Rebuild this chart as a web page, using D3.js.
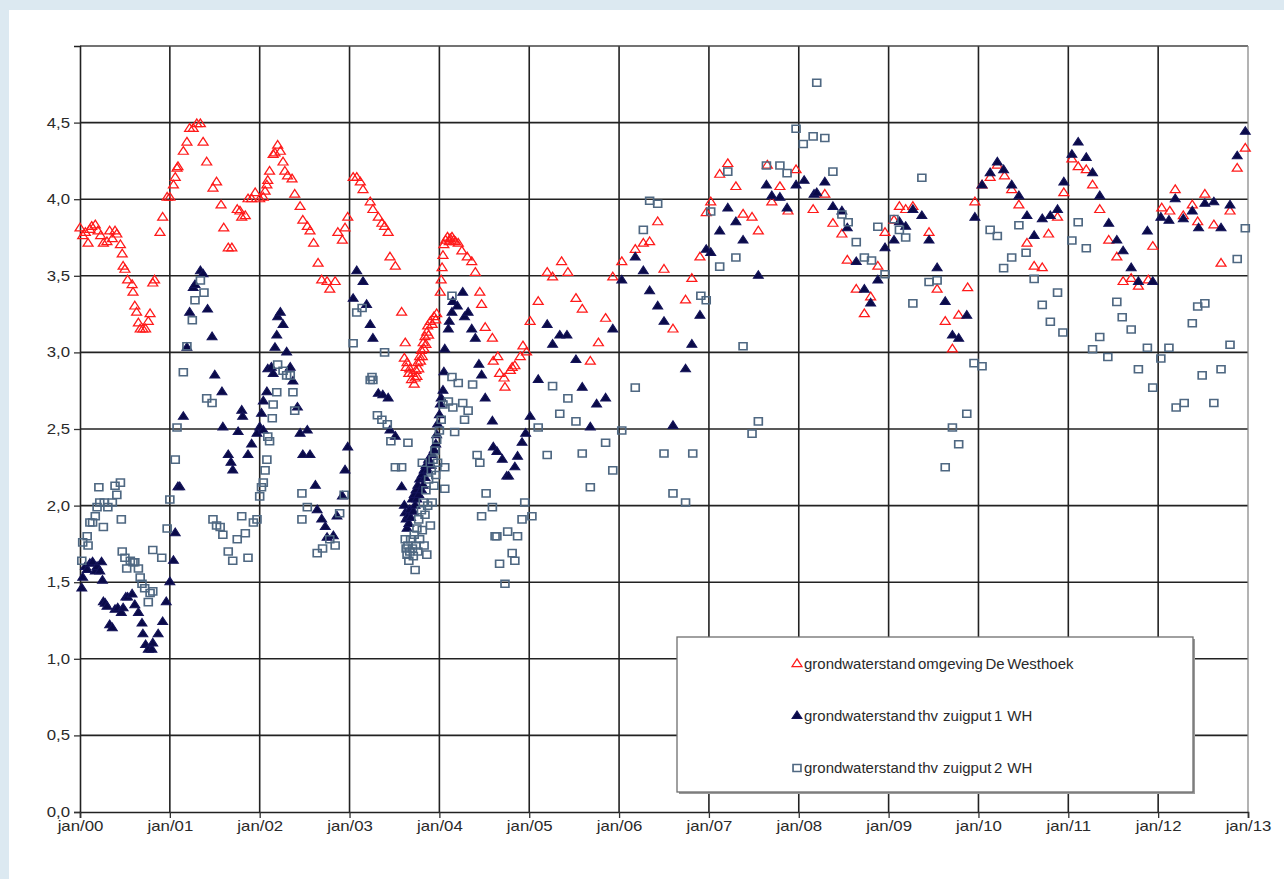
<!DOCTYPE html>
<html>
<head>
<meta charset="utf-8">
<title>grondwaterstand De Westhoek</title>
<script src="https://d3js.org/d3.v7.min.js"></script>
<style>
    body { margin: 0; background: #dde9f1; overflow: hidden; }
    svg { display: block; font-family: "Liberation Sans", Arial, sans-serif; }
</style>
</head>
<body>
<div id="chart"></div>
<script>
// x values: years since jan/00 (decimal), y values: grondwaterstand
const yearLabels = ['jan/00', 'jan/01', 'jan/02', 'jan/03', 'jan/04', 'jan/05', 'jan/06',
    'jan/07', 'jan/08', 'jan/09', 'jan/10', 'jan/11', 'jan/12', 'jan/13'];
const yTicks = [0, 0.5, 1, 1.5, 2, 2.5, 3, 3.5, 4, 4.5];
const seriesNames = ['grondwaterstand omgeving De Westhoek',
    'grondwaterstand thv  zuigput 1  WH', 'grondwaterstand thv  zuigput 2  WH'];

const westhoek = [
    [0.00,3.81],[0.03,3.76],[0.06,3.78],[0.09,3.71],[0.11,3.80],[0.13,3.82],[0.17,3.83],[0.20,3.79],[0.23,3.76],
    [0.26,3.71],[0.30,3.72],[0.33,3.79],[0.36,3.74],[0.39,3.79],[0.41,3.77],[0.45,3.70],[0.47,3.64],[0.48,3.56],
    [0.50,3.54],[0.53,3.47],[0.58,3.44],[0.59,3.39],[0.61,3.30],[0.63,3.26],[0.65,3.19],[0.67,3.15],[0.70,3.15],
    [0.73,3.15],[0.76,3.20],[0.78,3.25],[0.81,3.45],[0.83,3.47],[0.89,3.78],[0.92,3.88],[0.97,4.01],[1.00,4.01],
    [1.04,4.09],[1.06,4.14],[1.08,4.20],[1.09,4.21],[1.15,4.31],[1.19,4.37],[1.22,4.46],[1.26,4.46],[1.30,4.49],
    [1.34,4.49],[1.37,4.37],[1.41,4.24],[1.48,4.07],[1.52,4.11],[1.57,3.96],[1.60,3.81],[1.65,3.68],[1.69,3.68],
    [1.75,3.93],[1.78,3.92],[1.80,3.88],[1.84,3.89],[1.87,4.00],[1.91,4.00],[1.95,4.04],[2.00,4.00],
    [2.04,4.01],[2.06,4.05],[2.08,4.09],[2.09,4.12],[2.11,4.18],[2.15,4.29],[2.17,4.30],[2.20,4.35],[2.23,4.31],
    [2.26,4.24],[2.28,4.18],[2.31,4.15],[2.36,4.13],[2.39,4.03],[2.45,3.95],[2.48,3.86],[2.53,3.82],[2.56,3.79],
    [2.60,3.71],[2.65,3.58],[2.69,3.47],[2.75,3.46],[2.78,3.41],[2.84,3.46],[2.87,3.78],[2.92,3.73],[2.95,3.81],
    [2.98,3.88],
    [3.04,4.14],[3.08,4.14],[3.12,4.11],[3.15,4.06],[3.23,3.98],[3.26,3.93],[3.32,3.88],[3.36,3.84],[3.39,3.82],
    [3.43,3.78],[3.45,3.62],[3.51,3.56],[3.58,3.26],[3.62,3.06],
    [3.61,2.96],[3.63,2.90],[3.64,2.93],[3.66,2.86],[3.67,2.89],[3.69,2.82],[3.70,2.86],[3.72,2.79],[3.73,2.83],
    [3.74,2.88],[3.75,2.84],[3.76,2.93],[3.77,2.89],[3.78,2.97],[3.79,2.94],[3.80,3.01],[3.81,2.97],[3.82,3.06],
    [3.83,3.02],[3.84,3.10],[3.85,3.05],[3.86,3.13],[3.87,3.17],[3.88,3.11],[3.90,3.20],[3.92,3.18],[3.94,3.23],
    [3.96,3.21],[3.97,3.25],
    [4.01,3.39],[4.02,3.47],[4.03,3.55],[4.04,3.63],[4.05,3.70],[4.07,3.73],[4.09,3.75],[4.11,3.72],[4.12,3.74],
    [4.14,3.75],[4.16,3.73],[4.18,3.72],[4.21,3.71],[4.25,3.66],[4.31,3.62],[4.36,3.59],[4.40,3.52],[4.45,3.39],
    [4.47,3.31],[4.51,3.16],[4.59,3.09],[4.60,2.94],[4.65,2.97],[4.67,2.86],[4.72,2.83],[4.73,2.77],[4.79,2.88],
    [4.81,2.90],[4.84,2.91],[4.90,2.97],[4.93,3.04],[4.97,3.00],
    [5.01,3.20],[5.10,3.33],[5.20,3.52],[5.26,3.49],[5.36,3.59],[5.43,3.52],[5.52,3.35],[5.59,3.28],[5.68,2.94],
    [5.77,3.06],[5.85,3.22],[5.93,3.49],[6.03,3.59],
    [6.18,3.67],[6.27,3.71],[6.34,3.72],[6.43,3.85],[6.50,3.54],[6.60,3.15],[6.74,3.34],[6.81,3.48],[6.90,3.62],
    [6.97,3.91],[7.02,3.98],[7.12,4.16],[7.21,4.23],[7.30,4.08],[7.38,3.90],[7.48,3.88],[7.55,3.79],[7.65,4.22],
    [7.70,3.98],[7.79,4.08],[7.88,3.92],[7.97,4.19],[8.16,3.93],[8.29,4.03],[8.38,3.84],[8.48,3.77],[8.54,3.60],
    [8.64,3.41],[8.73,3.25],[8.80,3.36],[8.88,3.56],[8.96,3.78],[9.06,3.86],[9.12,3.95],[9.19,3.93],[9.27,3.95],
    [9.45,3.78],[9.54,3.41],[9.63,3.20],[9.71,3.02],[9.78,3.24],[9.88,3.42],[9.96,3.98],[10.04,4.09],[10.13,4.14],
    [10.21,4.22],[10.29,4.15],[10.37,4.06],[10.45,3.96],[10.54,3.71],[10.62,3.56],[10.71,3.55],[10.78,3.77],
    [10.88,3.88],[10.95,4.04],[11.04,4.26],[11.11,4.21],[11.20,4.19],[11.27,4.09],[11.35,3.93],[11.45,3.73],
    [11.54,3.62],[11.61,3.46],[11.70,3.48],[11.78,3.43],[11.89,3.47],[11.94,3.69],[12.04,3.94],[12.13,3.92],
    [12.19,4.06],[12.28,3.89],[12.38,3.96],[12.44,3.85],[12.52,4.03],[12.62,3.83],[12.70,3.58],[12.80,3.92],
    [12.88,4.20],[12.97,4.33]
];

const zuigput1 = [
    [0.02,1.46],[0.03,1.53],[0.06,1.60],[0.08,1.58],[0.11,1.62],[0.14,1.63],[0.17,1.57],[0.19,1.60],[0.22,1.57],
    [0.24,1.63],[0.25,1.51],[0.26,1.37],[0.28,1.36],[0.30,1.34],[0.33,1.22],[0.36,1.20],[0.39,1.32],[0.42,1.33],
    [0.46,1.30],[0.48,1.33],[0.51,1.40],[0.53,1.40],[0.58,1.42],[0.61,1.35],[0.65,1.30],[0.69,1.23],[0.70,1.16],
    [0.73,1.09],[0.76,1.06],[0.80,1.06],[0.81,1.10],[0.87,1.16],[0.92,1.24],[0.96,1.37],[1.00,1.50],[1.04,1.64],
    [1.06,1.82],[1.09,2.12],[1.11,2.12],
    [1.15,2.58],[1.19,3.03],[1.22,3.26],[1.26,3.42],[1.28,3.44],[1.34,3.53],[1.37,3.51],[1.42,3.28],[1.47,3.10],
    [1.50,2.85],[1.58,2.74],[1.59,2.51],[1.65,2.33],[1.68,2.28],[1.70,2.23],[1.76,2.48],[1.80,2.62],[1.81,2.58],
    [1.87,2.33],[1.91,2.40],[1.97,2.47],[2.00,2.51],[2.04,2.49],
    [2.02,2.60],[2.04,2.68],[2.08,2.74],[2.09,2.89],[2.13,2.90],[2.15,2.86],[2.17,3.03],[2.19,3.11],[2.20,3.23],
    [2.23,3.26],[2.26,3.18],[2.30,3.00],[2.34,2.90],[2.37,2.81],[2.42,2.64],[2.45,2.47],[2.48,2.33],[2.53,2.49],
    [2.56,2.33],[2.62,2.13],[2.64,1.97],[2.69,1.91],[2.73,1.86],[2.75,1.79],[2.82,1.80],[2.86,1.93],[2.92,2.06],
    [2.95,2.23],[2.98,2.38],
    [3.04,3.35],[3.08,3.53],[3.15,3.46],[3.19,3.31],[3.23,3.18],[3.26,3.09],[3.32,2.73],[3.37,2.72],[3.43,2.70],
    [3.45,2.49],[3.51,2.45],
    [3.58,2.12],[3.61,2.00],[3.62,1.95],[3.63,1.91],[3.64,1.85],[3.65,1.93],[3.66,1.88],[3.67,1.97],[3.68,1.92],
    [3.70,2.04],[3.71,1.96],[3.72,2.07],[3.73,2.00],[3.74,2.10],[3.75,2.04],[3.76,2.13],[3.77,2.07],[3.78,2.17],
    [3.80,2.10],[3.81,2.20],[3.82,2.13],[3.83,2.23],[3.84,2.18],[3.85,2.26],[3.87,2.23],[3.88,2.30],[3.91,2.26],
    [3.92,2.33],[3.94,2.36],[3.96,2.40],[3.97,2.46],[3.98,2.53],[4.00,2.59],[4.01,2.66],[4.02,2.70],[4.04,2.75],
    [4.05,2.87],[4.06,3.02],
    [4.10,3.15],[4.11,3.20],[4.14,3.26],[4.15,3.33],[4.20,3.30],[4.26,3.39],[4.28,3.23],[4.32,3.26],[4.36,3.15],
    [4.40,3.09],[4.44,2.92],[4.47,2.85],[4.51,2.70],[4.59,2.55],[4.60,2.38],[4.64,2.35],[4.70,2.30],[4.75,2.19],
    [4.77,2.19],[4.84,2.25],[4.87,2.32],[4.92,2.41],[4.96,2.47],[5.01,2.58],[5.10,2.82],
    [5.20,3.18],[5.26,3.05],[5.34,3.11],[5.42,3.11],[5.52,2.95],[5.59,2.77],[5.68,2.51],[5.75,2.66],[5.85,2.70],
    [5.93,3.15],[6.03,3.47],
    [6.18,3.62],[6.27,3.53],[6.34,3.40],[6.43,3.30],[6.50,3.20],[6.60,2.52],[6.74,2.89],[6.81,3.05],[6.90,3.24],
    [6.97,3.67],[7.02,3.65],[7.12,3.79],[7.21,3.94],[7.30,3.85],[7.38,3.73],[7.55,3.50],[7.64,4.09],[7.70,4.02],
    [7.79,4.01],[7.87,3.94],[7.97,4.09],[8.06,4.12],[8.17,4.03],[8.20,4.04],[8.29,4.11],[8.38,3.95],[8.48,3.92],
    [8.54,3.81],[8.64,3.59],[8.73,3.41],[8.80,3.32],[8.88,3.47],[8.96,3.68],[9.06,3.73],[9.12,3.85],[9.19,3.82],
    [9.27,3.93],[9.37,3.89],[9.45,3.73],[9.54,3.55],[9.63,3.33],[9.71,3.11],[9.78,3.09],[9.87,3.24],[9.96,3.88],
    [10.04,4.09],[10.13,4.17],[10.21,4.24],[10.28,4.19],[10.37,4.09],[10.45,4.02],[10.54,3.89],[10.62,3.76],
    [10.71,3.87],[10.80,3.89],[10.88,3.93],[10.95,4.11],[11.04,4.29],[11.11,4.37],[11.20,4.27],[11.27,4.17],
    [11.35,4.02],[11.45,3.84],[11.54,3.73],[11.61,3.66],[11.70,3.55],[11.78,3.46],[11.88,3.79],[11.94,3.46],
    [12.03,3.88],[12.12,3.86],[12.19,4.00],[12.28,3.87],[12.38,3.92],[12.45,3.81],[12.52,3.97],[12.62,3.98],
    [12.70,3.81],[12.80,3.96],[12.88,4.28],[12.97,4.44]
];

const zuigput2 = [
    [0.02,1.64],[0.03,1.76],[0.08,1.80],[0.09,1.74],[0.11,1.89],[0.14,1.89],[0.17,1.93],[0.19,1.99],[0.21,2.12],
    [0.22,2.02],[0.26,1.86],[0.27,2.02],[0.31,1.99],[0.36,2.02],[0.39,2.13],[0.41,2.07],[0.45,2.15],[0.46,1.91],
    [0.47,1.70],[0.50,1.66],[0.52,1.59],[0.56,1.64],[0.59,1.63],[0.61,1.63],[0.65,1.59],[0.67,1.53],[0.69,1.49],
    [0.72,1.46],[0.76,1.37],[0.78,1.43],[0.81,1.44],[0.81,1.71],[0.91,1.66],[0.97,1.85],[1.00,2.04],[1.06,2.30],
    [1.08,2.51],[1.15,2.87],
    [1.19,3.04],[1.25,3.21],[1.28,3.34],[1.34,3.47],[1.38,3.39],[1.41,2.70],[1.47,2.67],[1.48,1.91],[1.52,1.87],
    [1.56,1.86],[1.59,1.81],[1.65,1.70],[1.70,1.64],[1.75,1.78],[1.80,1.93],[1.84,1.82],[1.87,1.66],[1.93,1.89],
    [1.97,1.91],
    [2.00,2.06],[2.02,2.12],[2.04,2.15],[2.06,2.23],[2.08,2.30],[2.09,2.45],[2.11,2.42],[2.14,2.57],[2.15,2.66],
    [2.19,2.74],[2.20,2.92],[2.26,2.88],[2.30,2.85],[2.34,2.85],[2.37,2.74],[2.39,2.62],[2.47,2.08],[2.47,1.91],
    [2.53,1.99],[2.64,1.69],[2.70,1.72],[2.78,1.78],[2.84,1.74],[2.89,1.95],[2.94,2.07],
    [3.04,3.06],[3.08,3.26],[3.14,3.29],[3.23,2.82],[3.25,2.84],[3.26,2.82],[3.31,2.59],[3.36,2.56],[3.39,3.00],
    [3.42,2.53],[3.46,2.42],[3.51,2.25],[3.58,2.25],[3.65,2.41],[3.81,2.28],
    [3.62,1.78],[3.63,1.72],[3.64,1.68],[3.65,1.74],[3.66,1.64],[3.67,1.70],[3.68,1.78],[3.70,1.72],[3.71,1.67],
    [3.72,1.81],[3.73,1.58],[3.74,1.74],[3.75,1.85],[3.76,1.70],[3.77,1.91],[3.78,1.78],[3.80,1.97],[3.81,1.84],
    [3.82,2.02],[3.83,1.74],[3.84,1.94],[3.85,2.10],[3.86,1.68],[3.87,2.00],[3.88,2.17],[3.90,1.87],[3.91,2.23],
    [3.92,2.02],[3.93,2.30],[3.94,2.13],[3.95,2.36],[3.96,2.20],[3.97,2.43],[3.98,2.28],[4.00,2.49],[4.02,2.56],
    [4.04,2.66],
    [4.06,2.25],[4.06,2.11],[4.10,2.68],[4.14,2.84],[4.14,3.37],[4.15,2.64],[4.17,2.48],[4.21,2.80],[4.26,2.67],
    [4.28,2.56],[4.32,2.62],[4.37,2.79],[4.42,2.33],[4.45,2.28],[4.47,1.93],[4.52,2.08],[4.59,1.99],[4.62,1.80],
    [4.64,1.80],[4.67,1.62],[4.73,1.49],[4.76,1.83],[4.81,1.69],[4.84,1.64],[4.87,1.80],[4.92,1.91],[4.95,2.02],
    [5.03,1.93],
    [5.10,2.51],[5.20,2.33],[5.26,2.78],[5.34,2.60],[5.43,2.70],[5.52,2.55],[5.59,2.34],[5.68,2.12],[5.85,2.41],
    [5.93,2.23],[6.03,2.49],
    [6.18,2.77],[6.27,3.80],[6.34,3.99],[6.43,3.97],[6.50,2.34],[6.60,2.08],[6.74,2.02],[6.82,2.34],[6.91,3.37],
    [6.97,3.34],[7.02,3.92],[7.12,3.56],[7.21,4.18],[7.30,3.62],[7.38,3.04],[7.48,2.47],[7.55,2.55],[7.64,4.22],
    [7.79,4.22],[7.87,4.17],[7.97,4.46],[8.05,4.36],[8.16,4.41],[8.20,4.76],[8.29,4.40],[8.38,4.18],[8.48,3.90],
    [8.55,3.85],[8.64,3.72],[8.73,3.62],[8.81,3.60],[8.88,3.82],[8.96,3.51],[9.06,3.87],[9.12,3.80],[9.19,3.75],
    [9.27,3.32],[9.37,4.14],[9.45,3.46],[9.54,3.47],[9.63,2.25],[9.71,2.51],[9.78,2.40],[9.87,2.60],[9.95,2.93],
    [10.04,2.91],[10.13,3.80],[10.21,3.76],[10.28,3.55],[10.37,3.62],[10.45,3.83],[10.53,3.65],[10.62,3.48],
    [10.71,3.31],[10.80,3.20],[10.88,3.39],[10.94,3.13],[11.04,3.73],[11.11,3.85],[11.20,3.68],[11.27,3.02],
    [11.35,3.10],[11.44,2.97],[11.54,3.33],[11.60,3.23],[11.70,3.15],[11.78,2.89],[11.88,3.03],[11.94,2.77],
    [12.03,2.96],[12.12,3.03],[12.20,2.64],[12.29,2.67],[12.38,3.19],[12.44,3.30],[12.49,2.85],[12.52,3.32],
    [12.62,2.67],[12.70,2.89],[12.80,3.05],[12.88,3.61],[12.97,3.81]
];

const W = 1284, H = 879;
const plot = {left: 80, right: 1248, top: 46, bottom: 812};
const stretch = 1.2;       // axis text looks horizontally stretched in the original
const legendStretch = 1.07;

const svg = d3.select('#chart').append('svg').attr('width', W).attr('height', H);

// light blue frame + white sheet
svg.append('rect').attr('width', W).attr('height', H).attr('fill', '#dce9f1');
svg.append('rect').attr('x', 9).attr('y', 10).attr('width', W - 9).attr('height', H - 10).attr('fill', '#fff');

const x = d3.scaleLinear().domain([0, 13]).range([plot.left, plot.right]);
const y = d3.scaleLinear().domain([0, 5]).range([plot.bottom, plot.top]);

// grid
const grid = svg.append('g');
grid.selectAll('line.h').data(yTicks.filter(d => d > 0)).join('line')
    .attr('x1', plot.left).attr('x2', plot.right)
    .attr('y1', d => y(d)).attr('y2', d => y(d))
    .attr('stroke', '#222').attr('stroke-width', 1.6);
grid.selectAll('line.v').data(d3.range(1, 13)).join('line')
    .attr('x1', d => x(d)).attr('x2', d => x(d))
    .attr('y1', plot.top).attr('y2', plot.bottom)
    .attr('stroke', '#222').attr('stroke-width', 1.6);
// plot border top / right
svg.append('line').attr('x1', plot.left).attr('x2', plot.right).attr('y1', plot.top).attr('y2', plot.top)
    .attr('stroke', '#444').attr('stroke-width', 1.4);
svg.append('line').attr('x1', plot.right).attr('x2', plot.right).attr('y1', plot.top).attr('y2', plot.bottom)
    .attr('stroke', '#8a8a8a').attr('stroke-width', 1.3);

// axes
const yAxis = svg.append('g').attr('transform', `translate(${plot.left},0)`)
    .call(d3.axisLeft(y).tickValues(yTicks).tickSize(6)
        .tickFormat(d => d.toFixed(1).replace('.', ',')));
const xAxis = svg.append('g').attr('transform', `translate(0,${plot.bottom})`)
    .call(d3.axisBottom(x).tickValues(d3.range(14)).tickSize(6).tickPadding(3)
        .tickFormat(i => yearLabels[i]));
[yAxis, xAxis].forEach(a => {
    a.select('.domain').attr('stroke', '#222').attr('stroke-width', 1.6);
    a.selectAll('.tick line').attr('stroke', '#333').attr('stroke-width', 1.3);
    a.selectAll('.tick text').attr('fill', '#2a2a2a').style('font-size', '14px')
        .style('font-family', '"Liberation Sans", Arial, sans-serif')
        .attr('transform', `scale(${stretch},1)`);
});
yAxis.selectAll('.tick text').attr('x', -10 / stretch);

// marker styles per series
const tri = d3.symbol(d3.symbolTriangle, 34)();
const sq = d3.symbol(d3.symbolSquare, 50)();
const styles = [
    {path: tri, fill: 'none', stroke: '#ff1a1a', sw: 1.2},
    {path: tri, fill: '#0a0a48', stroke: '#14145a', sw: 1},
    {path: sq, fill: 'none', stroke: '#4f6882', sw: 1.5}
];
const allSeries = [westhoek, zuigput1, zuigput2];

allSeries.forEach((data, i) => {
    const st = styles[i];
    svg.append('g').selectAll('path').data(data).join('path')
        .attr('d', st.path)
        .attr('transform', d => `translate(${x(d[0])},${y(d[1])}) scale(1.12,1)`)
        .attr('fill', st.fill).attr('stroke', st.stroke).attr('stroke-width', st.sw);
});

// legend
const lg = svg.append('g');
lg.append('rect').attr('x', 679).attr('y', 639).attr('width', 516).attr('height', 155).attr('fill', '#9a9a9a');
lg.append('rect').attr('x', 677).attr('y', 637).attr('width', 516).attr('height', 155)
    .attr('fill', '#fff').attr('stroke', '#6e6e6e').attr('stroke-width', 1.3);
seriesNames.forEach((name, i) => {
    const yy = 664 + i * 52;
    const st = styles[i];
    lg.append('path').attr('d', st.path).attr('transform', `translate(797,${yy}) scale(1.12,1)`)
        .attr('fill', st.fill).attr('stroke', st.stroke).attr('stroke-width', st.sw);
    lg.append('text').attr('transform', `translate(804,${yy + 5}) scale(${legendStretch},1)`).text(name)
        .attr('fill', '#2a2a2a').style('font-size', '14px').style('word-spacing', '-1.5px')
        .style('white-space', 'pre');
});
</script>
</body>
</html>
